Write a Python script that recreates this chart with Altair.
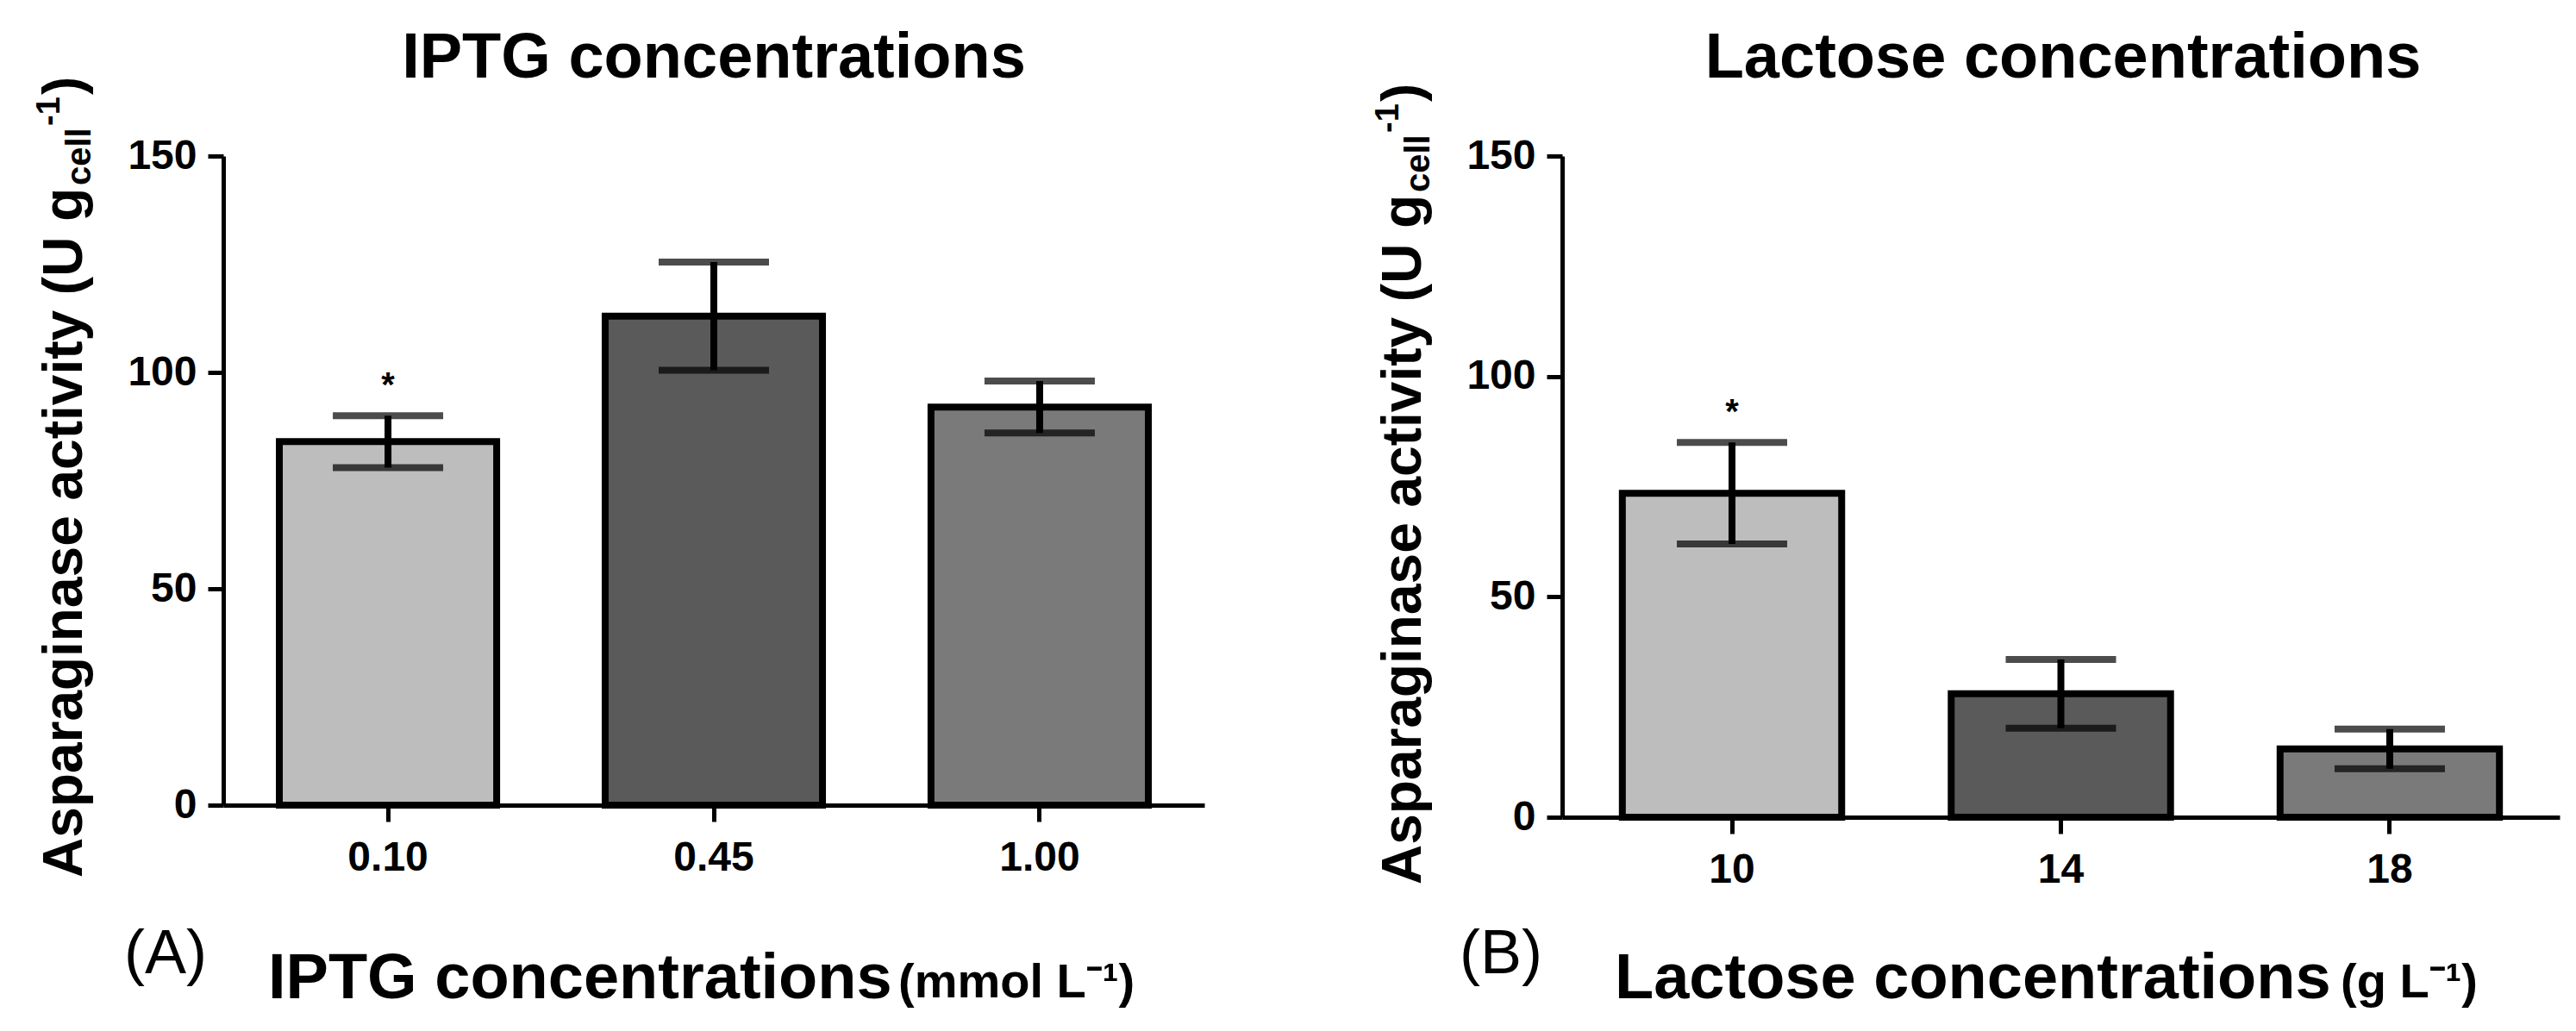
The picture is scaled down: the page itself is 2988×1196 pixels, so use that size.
import altair as alt
import pandas as pd

# ---------------- data ----------------
IPTG_LEVELS = ["0.10", "0.45", "1.00"]
IPTG_MEAN = [84.0, 113.0, 92.0]
IPTG_SD = [6.0, 12.5, 6.0]
IPTG_SIG = ["*", "", ""]

LAC_LEVELS = ["10", "14", "18"]
LAC_MEAN = [73.5, 28.0, 15.5]
LAC_SD = [11.5, 7.8, 4.5]
LAC_SIG = ["*", "", ""]

Y_TICKS = [0, 50, 100, 150]

# ---------------- text ----------------
TITLE_A = "IPTG concentrations"
TITLE_B = "Lactose concentrations"
XT_A = "IPTG concentrations"
XU_A = "(mmol L\u207b\u00b9)"
XT_B = "Lactose concentrations"
XU_B = "(g L\u207b\u00b9)"
PANEL_A = "(A)"
PANEL_B = "(B)"
YT_MAIN = "Asparaginase activity (U g"
YT_SUB = "cell"
YT_SUP = "-1"
YT_END = ")"

# ---------------- style ----------------
FILL_A = ["#bdbdbd", "#5a5a5a", "#7a7a7a"]
FILL_B = ["#c3c3c3", "#555555", "#8a8a8a"]
FONT = "Liberation Sans"


def text_layer(s, x, y, size, weight="bold", align="left", angle=0):
    return alt.Chart(pd.DataFrame({"t": [s]})).mark_text(
        align=align, baseline="alphabetic", fontSize=size, fontWeight=weight,
        font=FONT, angle=angle, color="black"
    ).encode(x=alt.value(x), y=alt.value(y), text="t:N")


def panel(levels, mean, sd, sig, fills, width, height, pi, po,
          title, title_x, plabel, plabel_x, xt, xt_x, xu, xu_x, yt_start):
    df = pd.DataFrame({"level": levels, "mean": mean, "sd": sd, "sig": sig})
    base = alt.Chart(df).transform_calculate(
        lo="datum.mean - datum.sd", hi="datum.mean + datum.sd")
    xs = alt.Scale(domain=levels, paddingInner=pi, paddingOuter=po)
    xax = alt.Axis(title=None, labelAngle=0)
    ys = alt.Scale(domain=[0, 150], nice=False)
    yax = alt.Axis(title=None, values=Y_TICKS)
    X = alt.X("level:N", sort=levels, scale=xs, axis=xax)

    bars = base.mark_bar(stroke="black", strokeWidth=8).encode(
        x=X,
        y=alt.Y("mean:Q", scale=ys, axis=yax),
        color=alt.Color("level:N", scale=alt.Scale(domain=levels, range=fills), legend=None),
    )
    rule = base.mark_rule(color="black", strokeWidth=8).encode(
        x=X, y=alt.Y("lo:Q", scale=ys, axis=yax), y2="hi:Q")
    cap_hi = base.mark_tick(color="black", thickness=8, size=128, orient="horizontal").encode(
        x=X, y=alt.Y("hi:Q", scale=ys, axis=yax))
    cap_lo = base.mark_tick(color="black", thickness=8, size=128, orient="horizontal").encode(
        x=X, y=alt.Y("lo:Q", scale=ys, axis=yax))
    star = base.transform_filter("datum.sig != ''").mark_text(
        fontSize=40, fontWeight="bold", font=FONT, baseline="middle", dy=-34, color="black"
    ).encode(x=X, y=alt.Y("hi:Q", scale=ys, axis=yax), text="sig:N")

    texts = [
        text_layer(title, title_x, -91, 74, align="center"),
        text_layer(plabel, plabel_x, 948, 72, weight="normal"),
        text_layer(xt, xt_x, 977, 74),
        text_layer(xu, xu_x, 976, 56),
        text_layer(YT_MAIN, -164, yt_start, 64, angle=270),
        text_layer(YT_SUB, -154, yt_start - 803, 40, angle=270),
        text_layer(YT_SUP, -190, yt_start - 872, 38, angle=270),
        text_layer(YT_END, -164, yt_start - 908, 64, angle=270),
    ]
    return alt.layer(bars, rule, cap_hi, cap_lo, star, *texts).properties(
        width=width, height=height)


pA = panel(IPTG_LEVELS, IPTG_MEAN, IPTG_SD, IPTG_SIG, FILL_A, 1138, 753, 0.333, 0.172,
           TITLE_A, 569, PANEL_A, -115, XT_A, 52, XU_A, 783, 837)
pB = panel(LAC_LEVELS, LAC_MEAN, LAC_SD, LAC_SIG, FILL_B, 1157, 767, 0.333, 0.183,
           TITLE_B, 581, PANEL_B, -119, XT_B, 61, XU_B, 903, 845)

chart = alt.hconcat(pA, pB, spacing=195).properties(
    padding={"left": 31, "top": 23, "right": 5, "bottom": 5}
).configure_view(stroke=None).configure_axis(
    domainColor="black", domainWidth=5, tickColor="black", tickWidth=5,
    labelFont=FONT, labelFontWeight="bold", labelFontSize=48, labelColor="black",
    grid=False,
).configure_axisX(tickSize=19, labelPadding=18).configure_axisY(tickSize=18, labelPadding=13)

chart.save("out.html", embed_options={"renderer": "svg", "actions": False})
